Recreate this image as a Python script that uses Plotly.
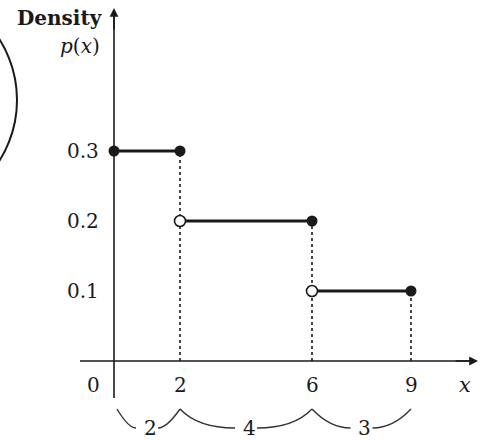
import plotly.graph_objects as go

# ---- data ----
breaks = [0, 2, 6, 9]
densities = [0.3, 0.2, 0.1]
widths = [2, 4, 3]
y_ticks = [0.1, 0.2, 0.3]
y_tick_labels = ["0.1", "0.2", "0.3"]
x_tick_labels = ["0", "2", "6", "9"]

W, H = 482, 440
X0PX, XSCALE = 114, 33.0      # px of x=0, px per unit
Y0PX, YSCALE = 361, 700.0     # px of y=0, px per unit
xr = [-X0PX / XSCALE, (W - X0PX) / XSCALE]
yr = [-(H - Y0PX) / YSCALE, Y0PX / YSCALE]

def dx(px):
    return px / XSCALE

def dy(px):
    return px / YSCALE

INK = "#1a1a1a"
FONT = "DejaVu Serif"
FS = 20

fig = go.Figure()

# dotted verticals
for i in range(1, len(breaks)):
    fig.add_trace(go.Scatter(x=[breaks[i], breaks[i]], y=[0, densities[i - 1]], mode="lines",
                             line=dict(color=INK, width=1.6, dash="dot"), hoverinfo="skip"))

# horizontal segments
for i, d in enumerate(densities):
    fig.add_trace(go.Scatter(x=[breaks[i], breaks[i + 1]], y=[d, d], mode="lines",
                             line=dict(color=INK, width=3.2), hoverinfo="skip"))

# closed endpoints
cx = [breaks[0]] + [breaks[i + 1] for i in range(len(densities))]
cy = [densities[0]] + list(densities)
fig.add_trace(go.Scatter(x=cx, y=cy, mode="markers",
                         marker=dict(size=11, color=INK, line=dict(width=0)), hoverinfo="skip"))
# open endpoints
ox = [breaks[i] for i in range(1, len(densities))]
oy = [densities[i] for i in range(1, len(densities))]
fig.add_trace(go.Scatter(x=ox, y=oy, mode="markers",
                         marker=dict(size=11, color="white", line=dict(width=1.6, color=INK)), hoverinfo="skip"))

shapes = []
annotations = []

# axes
shapes.append(dict(type="line", xref="x", yref="y", x0=0, x1=0, y0=dy(-37), y1=dy(346),
                   line=dict(color=INK, width=1.6)))
shapes.append(dict(type="line", xref="x", yref="y", x0=dx(-34), x1=dx(358), y0=0, y1=0,
                   line=dict(color=INK, width=1.6)))
# arrowheads
annotations.append(dict(x=0, y=dy(353), ax=0, ay=dy(330), xref="x", yref="y", axref="x", ayref="y",
                        showarrow=True, arrowhead=2, arrowsize=1.1, arrowwidth=1.6, arrowcolor=INK, text=""))
annotations.append(dict(x=dx(364), y=0, ax=dx(340), ay=0, xref="x", yref="y", axref="x", ayref="y",
                        showarrow=True, arrowhead=2, arrowsize=1.1, arrowwidth=1.6, arrowcolor=INK, text=""))

# y tick labels
for v, t in zip(y_ticks, y_tick_labels):
    annotations.append(dict(x=dx(-13), y=v, xref="x", yref="y", text=t, showarrow=False,
                            xanchor="right", yanchor="middle", font=dict(family=FONT, size=FS, color=INK)))
# x tick labels
for b, t in zip(breaks, x_tick_labels):
    xpos = b if b != 0 else dx(-21)
    annotations.append(dict(x=xpos, y=dy(-24), xref="x", yref="y", text=t, showarrow=False,
                            xanchor="center", yanchor="middle", font=dict(family=FONT, size=FS, color=INK)))
annotations.append(dict(x=dx(351), y=dy(-24), xref="x", yref="y", text="<i>x</i>", showarrow=False,
                        xanchor="center", yanchor="middle", font=dict(family=FONT, size=21, color=INK)))

# axis title
annotations.append(dict(x=dx(-9), y=dy(343), xref="x", yref="y", text="<b>Density</b>", showarrow=False,
                        xanchor="right", yanchor="middle", font=dict(family=FONT, size=20, color=INK)))
annotations.append(dict(x=dx(-12), y=dy(315), xref="x", yref="y", text="<i>p</i>(<i>x</i>)", showarrow=False,
                        xanchor="right", yanchor="middle", font=dict(family=FONT, size=20, color=INK)))

# braces under intervals
ytop, ybot = dy(-48), dy(-67)
gap = dx(11)
for i, w in enumerate(widths):
    a, b = breaks[i] + (dx(3) if i == 0 else 0), breaks[i + 1]
    m = (breaks[i] + breaks[i + 1]) / 2
    half_l = (m - gap) - a
    half_r = b - (m + gap)
    kl = min(dx(18), 0.6 * half_l)
    kr = min(dx(18), 0.6 * half_r)
    p = (f"M {a},{ytop} Q {a + kl},{ybot} {m - gap},{ybot} "
         f"M {m + gap},{ybot} Q {b - kr},{ybot} {b},{ytop}")
    shapes.append(dict(type="path", xref="x", yref="y", path=p, line=dict(color="#333", width=1.4)))
    annotations.append(dict(x=m + dx(3), y=dy(-67), xref="x", yref="y", text=str(w), showarrow=False,
                            xanchor="center", yanchor="middle", font=dict(family=FONT, size=FS, color=INK)))

# decorative arc at the left edge
shapes.append(dict(type="circle", xref="paper", yref="paper",
                   x0=(-97 - 114) / W, x1=17 / W, y0=1 - 214 / H, y1=1 + 14 / H,
                   line=dict(color=INK, width=2)))

fig.update_layout(
    width=W, height=H, margin=dict(l=0, r=0, t=0, b=0),
    paper_bgcolor="white", plot_bgcolor="white", showlegend=False,
    xaxis=dict(range=xr, visible=False, fixedrange=True),
    yaxis=dict(range=yr, visible=False, fixedrange=True),
    shapes=shapes, annotations=annotations,
)

fig.write_html("out.html", config={"displayModeBar": False},
               post_script="document.body.style.margin='0';document.body.style.overflow='hidden';")
